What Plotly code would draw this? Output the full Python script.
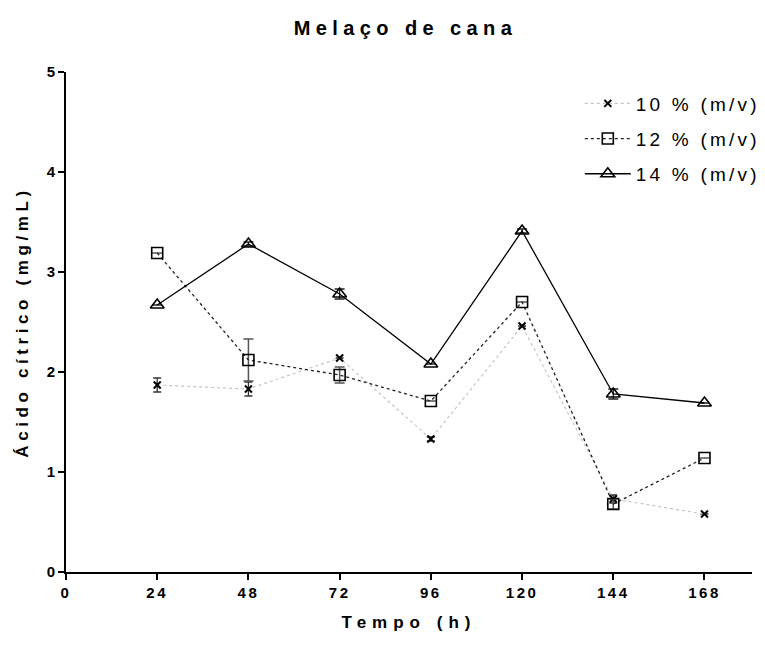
import plotly.graph_objects as go

# Sampling times (h)
tempo = [24, 48, 72, 96, 120, 144, 168]

# Citric acid concentration (mg/mL) for each molasses concentration
acido_10 = [1.87, 1.83, 2.14, 1.33, 2.46, 0.73, 0.58]
erro_10 = [0.07, 0.07, 0.0, 0.02, 0.0, 0.04, 0.0]

acido_12 = [3.19, 2.12, 1.97, 1.71, 2.70, 0.68, 1.14]
erro_12 = [0.0, 0.21, 0.08, 0.0, 0.0, 0.05, 0.0]

acido_14 = [2.67, 3.28, 2.78, 2.08, 3.41, 1.78, 1.69]
erro_14 = [0.0, 0.02, 0.05, 0.0, 0.02, 0.05, 0.0]

nomes = ["10 % (m/v)", "12 % (m/v)", "14 % (m/v)"]
x_ticks = [0, 24, 48, 72, 96, 120, 144, 168]
y_ticks = [0, 1, 2, 3, 4, 5]

FONT = "Liberation Sans, Arial, sans-serif"


def espacado(texto, px, negrito=False):
    """Wrap text in a span with extra letter spacing."""
    inner = f"<b>{texto}</b>" if negrito else texto
    return f'<span style="letter-spacing:{px}px">{inner}</span>'


fig = go.Figure()

fig.add_trace(go.Scatter(
    x=tempo, y=acido_10, name=espacado(nomes[0], 3.2), legendgroup="g10",
    mode="lines+markers",
    line=dict(color="#c4c4c4", width=1.2, dash="dot"),
    marker=dict(symbol="x-thin", size=7, line=dict(color="black", width=2), color="black"),
    error_y=dict(type="data", array=erro_10, visible=True, color="#333333",
                 thickness=1.3, width=4),
))

fig.add_trace(go.Scatter(
    x=tempo, y=acido_12, name=espacado(nomes[1], 3.2), legendgroup="g12",
    mode="lines+markers",
    line=dict(color="#222222", width=1.3, dash="dot"),
    marker=dict(symbol="square-open", size=11, color="black", line=dict(width=1.6)),
    error_y=dict(type="data", array=erro_12, visible=True, color="#555555",
                 thickness=1.5, width=5),
))

fig.add_trace(go.Scatter(
    x=tempo, y=acido_14, name=espacado(nomes[2], 3.2), legendgroup="g14",
    mode="lines+markers",
    line=dict(color="black", width=1.3),
    marker=dict(symbol="triangle-up-open", size=12, color="black", line=dict(width=1.6)),
    error_y=dict(type="data", array=erro_14, visible=True, color="#222222",
                 thickness=1.3, width=5),
))

fig.update_layout(
    width=765, height=645,
    margin=dict(l=66, r=13, t=72, b=73, autoexpand=False),
    paper_bgcolor="white", plot_bgcolor="white",
    font=dict(family=FONT, color="black"),
    title=dict(text=espacado("Melaço de cana", 5.4, negrito=True), x=0.53, xanchor="center",
               y=0.957, yanchor="middle", font=dict(size=20, family=FONT)),
    showlegend=True,
    legend=dict(x=0.749, y=0.975, xanchor="left", yanchor="top",
                font=dict(size=19, family=FONT), tracegroupgap=7.5,
                bgcolor="rgba(0,0,0,0)", itemwidth=46),
)

fig.update_xaxes(
    range=[0, 180.5], tickvals=x_ticks, ticktext=[espacado(str(t), 2.5) for t in x_ticks],
    showgrid=False, zeroline=False, showline=True, linecolor="black", linewidth=2,
    ticks="outside", ticklen=6, tickwidth=2, tickcolor="black",
    tickfont=dict(size=15, family=FONT, weight="bold"),
    title=dict(text=espacado("Tempo (h)", 6, negrito=True), font=dict(size=17, family=FONT), standoff=16),
)

fig.update_yaxes(
    range=[0, 5], tickvals=y_ticks, ticktext=[str(t) for t in y_ticks],
    showgrid=False, zeroline=False, showline=True, linecolor="black", linewidth=2,
    ticks="outside", ticklen=6, tickwidth=2, tickcolor="black",
    tickfont=dict(size=15, family=FONT, weight="bold"),
    title=dict(text=espacado("Ácido cítrico (mg/mL)", 4.6, negrito=True), font=dict(size=17, family=FONT), standoff=14),
)

fig.write_html("out.html")
